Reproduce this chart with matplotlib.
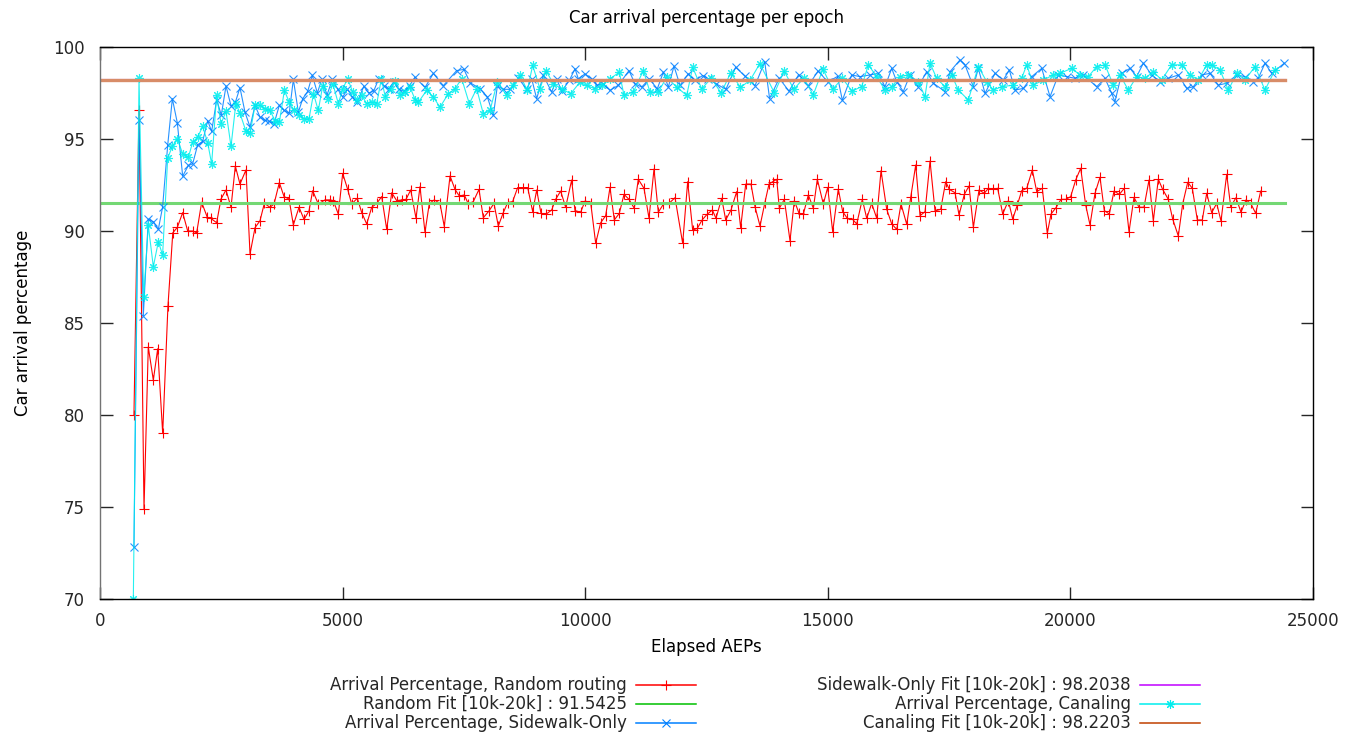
import matplotlib
matplotlib.use("Agg")
import matplotlib.pyplot as plt
from matplotlib.lines import Line2D

plt.rcParams.update({
    'font.family': ['DejaVu Sans'],
    'font.size': 12,
})

# ── Data ────────────────────────────────────────────────────────────
random_x = [700, 804, 907, 995, 1099, 1189, 1292, 1400, 1500, 1594,
            1704, 1807, 1910, 1992, 2095, 2212, 2281, 2404, 2494, 2597,
            2700, 2789, 2885, 3009, 3092, 3195, 3298, 3387, 3504, 3587,
            3696, 3793, 3896, 3985, 4102, 4205, 4308, 4383, 4499, 4638,
            4741, 4809, 4912, 5002, 5105, 5187, 5304, 5394, 5497, 5600,
            5703, 5806, 5909, 6012, 6115, 6218, 6307, 6404, 6513, 6595,
            6698, 6787, 6890, 7007, 7096, 7214, 7317, 7406, 7509, 7591,
            7694, 7811, 7900, 8017, 8120, 8209, 8312, 8402, 8505, 8608,
            8712, 8815, 8918, 9000, 9089, 9192, 9309, 9391, 9494, 9597,
            9721, 9789, 9907, 9996, 10113, 10216, 10319, 10422, 10511, 10600,
            10703, 10800, 10903, 11012, 11094, 11212, 11315, 11418, 11507, 11610,
            11727, 11851, 12009, 12112, 12215, 12310, 12410, 12510, 12620, 12696,
            12813, 12896, 13005, 13122, 13204, 13308, 13417, 13500, 13603, 13700,
            13788, 13865, 13947, 14001, 14104, 14221, 14310, 14407, 14496, 14599,
            14702, 14784, 14908, 14998, 15101, 15216, 15307, 15402, 15513, 15596,
            15711, 15802, 15905, 16008, 16097, 16214, 16318, 16421, 16509, 16627,
            16709, 16812, 16901, 17004, 17107, 17210, 17327, 17430, 17505, 17622,
            17705, 17814, 17911, 18000, 18117, 18226, 18308, 18411, 18501, 18605,
            18721, 18811, 18906, 18996, 19100, 19215, 19306, 19421, 19524, 19600,
            19703, 19806, 19909, 20006, 20109, 20212, 20315, 20404, 20507, 20610,
            20699, 20802, 20899, 21008, 21111, 21208, 21311, 21414, 21517, 21620,
            21709, 21812, 21902, 22018, 22108, 22224, 22314, 22418, 22513, 22616,
            22719, 22809, 22912, 23015, 23104, 23221, 23304, 23413, 23516, 23619,
            23716, 23819, 23922]
random_y = [80.0, 96.6, 74.9, 83.7, 81.9, 83.6, 79.0, 85.9, 89.9, 90.2,
            91.0, 90.0, 90.0, 89.9, 91.56, 90.74, 90.69, 90.45, 91.74, 92.23,
            91.29, 93.53, 92.55, 93.32, 88.75, 90.18, 90.56, 91.5, 91.29, 91.47,
            92.63, 91.87, 91.74, 90.33, 91.29, 90.63, 91.1, 92.19, 91.47, 91.69,
            91.69, 91.65, 90.91, 93.13, 92.26, 91.47, 91.78, 91.0, 90.38, 91.29,
            91.5, 91.87, 90.09, 92.08, 91.65, 91.69, 91.72, 92.23, 90.69, 92.41,
            89.93, 91.5, 91.69, 91.5, 90.24, 92.99, 92.26, 91.9, 91.96, 91.47,
            91.6, 92.26, 90.72, 91.09, 91.5, 90.27, 91.0, 91.54, 91.6, 92.36,
            92.36, 92.36, 91.05, 92.23, 90.96, 90.91, 91.14, 91.72, 92.17, 91.29,
            92.77, 91.11, 91.02, 91.63, 91.54, 89.33, 90.45, 90.83, 92.37, 90.6,
            90.96, 91.99, 91.72, 91.23, 92.81, 92.32, 90.69, 93.37, 91.02, 91.45,
            91.5, 91.81, 89.33, 92.68, 90.05, 90.14, 90.6, 90.9, 91.14, 90.69,
            91.78, 90.6, 91.14, 92.14, 90.18, 92.55, 92.55, 91.32, 90.27, 91.5,
            92.55, 92.68, 92.81, 91.23, 91.72, 89.47, 91.65, 90.96, 90.92, 91.96,
            91.23, 92.81, 91.47, 92.37, 89.96, 92.28, 91.05, 90.69, 90.63, 90.38,
            91.72, 90.69, 91.5, 90.69, 93.28, 91.18, 90.38, 90.09, 91.47, 90.36,
            91.83, 93.59, 90.83, 91.05, 93.8, 91.09, 91.18, 92.68, 92.26, 92.08,
            90.87, 91.99, 92.45, 90.2, 92.23, 92.05, 92.32, 92.28, 92.32, 90.92,
            91.65, 90.65, 91.41, 92.19, 92.32, 93.32, 92.14, 92.32, 89.87, 90.92,
            91.27, 91.72, 91.72, 91.87, 92.77, 93.41, 91.41, 90.33, 92.05, 92.92,
            91.11, 90.92, 92.17, 91.99, 92.32, 89.96, 91.83, 91.29, 91.29, 92.77,
            90.56, 92.81, 92.26, 91.72, 90.65, 89.73, 91.47, 92.65, 92.32, 90.6,
            90.6, 92.05, 91.0, 91.5, 90.54, 93.08, 91.32, 91.81, 91.02, 91.69,
            91.5, 90.96, 92.17]

sidewalk_x = [700, 804, 893, 995, 1100, 1202, 1290, 1395, 1491, 1594,
              1704, 1821, 1910, 2013, 2116, 2219, 2301, 2404, 2500, 2597,
              2700, 2790, 2885, 2988, 3092, 3195, 3298, 3401, 3490, 3587,
              3696, 3793, 3900, 3985, 4088, 4178, 4281, 4376, 4480, 4570,
              4680, 4789, 4900, 5002, 5100, 5200, 5300, 5437, 5540, 5640,
              5740, 5850, 5950, 6050, 6160, 6260, 6380, 6492, 6698, 6870,
              7076, 7351, 7502, 7626, 7832, 7983, 8107, 8189, 8312, 8450,
              8622, 8793, 8897, 9000, 9137, 9309, 9412, 9515, 9673, 9790,
              9858, 9996, 10133, 10237, 10374, 10511, 10683, 10903, 11026, 11164,
              11321, 11486, 11610, 11713, 11830, 11954, 12125, 12263, 12421, 12538,
              12700, 12900, 13100, 13300, 13500, 13700, 13800, 14000, 14200, 14400,
              14600, 14800, 15000, 15200, 15300, 15492, 15664, 15870, 16041, 16179,
              16317, 16420, 16556, 16694, 16866, 17038, 17175, 17416, 17519, 17725,
              17828, 18000, 18102, 18240, 18446, 18618, 18741, 18858, 19030, 19203,
              19409, 19580, 19752, 19924, 20095, 20267, 20542, 20713, 20851, 20919,
              21057, 21228, 21366, 21503, 21675, 21847, 22019, 22225, 22397, 22534,
              22706, 22877, 23049, 23221, 23427, 23599, 23770, 23873, 24010, 24148,
              24409]
sidewalk_y = [72.8, 96.05, 85.4, 90.64, 90.5, 90.09, 91.3, 94.65, 97.19, 95.87,
              92.98, 93.56, 93.65, 94.69, 94.87, 96.0, 95.41, 97.13, 96.3, 97.88,
              96.8, 97.0, 97.79, 96.46, 95.65, 96.83, 96.19, 96.01, 95.96, 95.83,
              96.83, 96.55, 96.4, 98.24, 96.46, 97.19, 97.59, 98.46, 97.5, 98.24,
              97.4, 98.24, 97.7, 97.28, 97.7, 97.3, 97.0, 97.86, 97.5, 97.6,
              98.24, 97.9, 97.7, 98.1, 97.7, 97.6, 97.9, 98.36, 97.8, 98.56,
              97.9, 98.72, 98.78, 98.06, 97.74, 97.29, 96.28, 97.88, 97.7, 97.7,
              98.31, 97.7, 98.27, 97.19, 98.46, 97.55, 98.27, 97.59, 98.18, 98.82,
              98.27, 98.54, 98.27, 97.92, 98.0, 97.64, 97.92, 98.72, 98.0, 97.82,
              98.27, 97.73, 98.63, 97.82, 98.96, 97.92, 98.54, 98.18, 98.45, 98.27,
              98.0, 97.7, 98.9, 98.4, 97.9, 99.2, 97.2, 98.3, 97.6, 98.5,
              97.9, 98.7, 98.1, 98.4, 97.1, 98.48, 98.39, 98.48, 98.57, 97.84,
              98.84, 98.12, 97.58, 98.48, 97.84, 98.66, 98.03, 97.58, 98.66, 99.3,
              99.03, 97.84, 98.84, 97.48, 98.57, 98.21, 98.75, 97.66, 97.75, 98.39,
              98.84, 97.3, 98.48, 98.39, 98.3, 98.48, 97.84, 98.3, 97.48, 97.03,
              98.57, 98.84, 98.39, 99.12, 98.48, 98.12, 98.3, 98.48, 97.75, 97.84,
              98.48, 98.57, 97.93, 98.03, 98.48, 98.39, 98.12, 98.3, 99.12, 98.57,
              99.12]

canal_x = [687, 804, 900, 995, 1099, 1202, 1290, 1395, 1491, 1594,
           1704, 1821, 1910, 2013, 2116, 2219, 2301, 2404, 2494, 2597,
           2700, 2800, 2885, 3009, 3092, 3195, 3298, 3401, 3504, 3607,
           3696, 3800, 3900, 4000, 4102, 4205, 4308, 4400, 4499, 4590,
           4690, 4800, 4912, 5002, 5105, 5208, 5304, 5394, 5497, 5600,
           5703, 5800, 5880, 5990, 6090, 6190, 6290, 6390, 6500, 6561,
           6733, 6870, 7007, 7179, 7317, 7454, 7612, 7763, 7900, 8038,
           8189, 8381, 8518, 8656, 8807, 8917, 9068, 9192, 9343, 9515,
           9700, 9893, 10030, 10202, 10340, 10511, 10703, 10800, 10992, 11198,
           11336, 11507, 11679, 11886, 12092, 12215, 12400, 12600, 12800, 13000,
           13200, 13400, 13600, 13900, 14100, 14300, 14500, 14700, 14900, 15100,
           15300, 15500, 15698, 15836, 16007, 16179, 16317, 16488, 16660, 16866,
           17003, 17107, 17244, 17416, 17553, 17690, 17896, 18102, 18274, 18411,
           18583, 18824, 18996, 19100, 19237, 19443, 19649, 19786, 20027, 20198,
           20370, 20542, 20713, 20885, 21022, 21194, 21366, 21537, 21709, 21881,
           22087, 22294, 22465, 22637, 22809, 22912, 23083, 23255, 23427, 23599,
           23805, 24010, 24216]
canal_y = [70.0, 98.3, 86.4, 90.3, 88.06, 89.42, 88.7, 93.96, 94.6, 95.0,
           94.2, 94.0, 94.83, 95.1, 95.68, 94.8, 93.65, 97.37, 95.83, 96.5,
           94.6, 96.92, 96.4, 95.41, 95.3, 96.83, 96.83, 96.65, 96.55, 96.0,
           95.9, 97.64, 97.0, 96.55, 96.28, 96.1, 96.1, 97.46, 96.55, 97.9,
           97.2, 98.0, 96.92, 97.73, 98.28, 97.55, 97.1, 97.37, 96.92, 97.0,
           96.92, 98.28, 97.28, 97.73, 98.17, 97.37, 97.55, 97.82, 97.1, 97.0,
           97.64, 97.28, 96.73, 97.46, 97.73, 98.28, 96.92, 97.73, 96.37, 96.55,
           98.09, 97.37, 97.91, 98.46, 97.64, 99.0, 97.73, 98.72, 98.0, 97.73,
           97.46, 98.09, 97.91, 97.73, 97.91, 98.27, 98.63, 97.37, 97.55, 98.72,
           97.55, 97.55, 98.36, 97.82, 97.37, 98.9, 97.73, 98.3, 97.5, 98.6,
           97.8, 98.2, 99.1, 97.5, 98.7, 97.7, 98.3, 97.4, 98.8, 97.7,
           98.3, 97.6, 97.85, 99.03, 98.39, 97.66, 97.84, 98.39, 98.48, 98.12,
           97.3, 99.12, 98.3, 97.84, 98.48, 97.66, 97.12, 98.94, 98.12, 97.66,
           97.84, 97.93, 98.3, 99.03, 97.93, 98.21, 98.48, 98.57, 98.84, 98.48,
           98.39, 98.94, 99.03, 97.93, 98.48, 97.66, 98.39, 98.3, 98.66, 98.21,
           99.03, 99.03, 98.48, 98.21, 99.03, 99.03, 98.75, 97.66, 98.57, 98.21,
           98.94, 97.66, 98.75]

random_fit = 91.5425
sidewalk_fit = 98.2038
canal_fit = 98.2203
fit_span = [0, 24430]

labels = ["Arrival Percentage, Random routing",
          "Random Fit [10k-20k] : 91.5425",
          "Arrival Percentage, Sidewalk-Only",
          "Sidewalk-Only Fit [10k-20k] : 98.2038",
          "Arrival Percentage, Canaling",
          "Canaling Fit [10k-20k] : 98.2203"]

# gnuplot classic line colours
C_RED = '#ff0000'
C_GREEN = '#00c000'
C_BLUE = '#0080ff'
C_MAGENTA = '#c000ff'
C_CYAN = '#00eeee'
C_BROWN = '#c04000'
# softened look of the wide fit lines in the reference
FIT_GREEN = '#74d874'
FIT_BROWN = '#d88c68'
ASTER = (8, 2, 0)

# ── Figure ──────────────────────────────────────────────────────────
fig = plt.figure(figsize=(13.51, 7.35), dpi=100)
ax = fig.add_axes([100 / 1351, 1 - 599 / 735, 1213 / 1351, 552 / 735])

ax.plot(random_x, random_y, color=C_RED, lw=0.8, marker='+', ms=7, mew=0.8)
ax.plot(fit_span, [random_fit] * 2, color=FIT_GREEN, lw=2.2)
ax.plot(sidewalk_x, sidewalk_y, color=C_BLUE, lw=0.8, marker='x', ms=5.5,
        mew=0.8, alpha=0.85)
ax.plot(fit_span, [sidewalk_fit] * 2, color=C_MAGENTA, lw=1.5)
ax.plot(canal_x, canal_y, color=C_CYAN, lw=0.8, marker=ASTER, ms=6.5, mew=0.8,
        alpha=0.85)
ax.plot(fit_span, [canal_fit] * 2, color=FIT_BROWN, lw=2.4)

ax.set_xlim(0, 25000)
ax.set_ylim(70, 100)
ax.set_xticks(range(0, 25001, 5000))
ax.set_yticks(range(70, 101, 5))
ax.tick_params(direction='in', length=9, width=1, top=True, right=True,
               labelsize=12, colors='0.15')
ax.tick_params(axis='x', pad=9)
ax.tick_params(axis='y', pad=11)
for s in ax.spines.values():
    s.set_linewidth(1.0)
ax.spines['left'].set_color('0.45')

ax.set_title("Car arrival percentage per epoch", fontsize=12, pad=17)
ax.set_xlabel("Elapsed AEPs", fontsize=12, labelpad=6)
ax.set_ylabel("Car arrival percentage", fontsize=12, labelpad=15)

# ── gnuplot-style legend: text right-aligned, sample to the right ──
styles = [
    dict(color=C_RED, marker='+', ms=7, mew=0.8),
    dict(color=C_GREEN, marker=None),
    dict(color=C_BLUE, marker='x', ms=5.5, mew=0.8),
    dict(color=C_MAGENTA, marker=None),
    dict(color=C_CYAN, marker=ASTER, ms=6.5, mew=0.8),
    dict(color=C_BROWN, marker=None),
]
col_text_x = [627, 1131]
rows_y = [685, 704, 723]
for i, (lab, st) in enumerate(zip(labels, styles)):
    col, row = divmod(i, 3)
    tx = col_text_x[col]
    ty = rows_y[row]
    fig.text(tx / 1351, 1 - ty / 735, lab, ha='right', va='center', fontsize=12,
             color='0.15')
    x0, x1 = (tx + 9) / 1351, (tx + 69) / 1351
    yy = 1 - ty / 735
    fig.add_artist(Line2D([x0, x1], [yy, yy], color=st['color'], lw=1.1,
                          transform=fig.transFigure))
    if st['marker']:
        fig.add_artist(Line2D([(x0 + x1) / 2], [yy], color=st['color'],
                              marker=st['marker'], ms=st['ms'], mew=st['mew'],
                              linestyle='None', transform=fig.transFigure))

fig.savefig("out.png", dpi=100)
